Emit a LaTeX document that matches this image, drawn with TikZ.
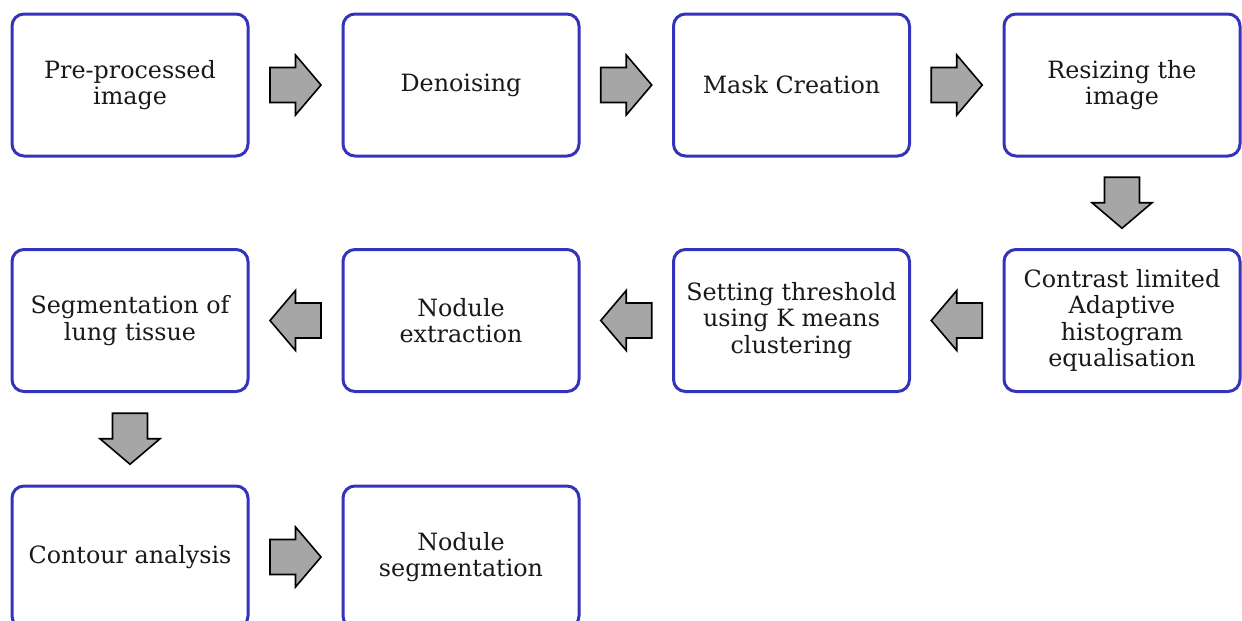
\documentclass[tikz,border=0pt]{standalone}
\usepackage{fontspec}
\setmainfont{DejaVu Serif}
\definecolor{boxblue}{RGB}{51,51,187}
\definecolor{arrgray}{RGB}{166,166,166}
\definecolor{txt}{RGB}{25,25,25}
\begin{document}
\begin{tikzpicture}[x=1pt,y=-1pt,
  stepbox/.style={draw=boxblue, line width=3pt, rounded corners=12pt, fill=white,
    minimum width=236pt, minimum height=142pt, align=center, text=txt,
    font=\fontsize{23.8}{26.5}\selectfont, inner sep=0pt},
  barrow/.pic={\draw[fill=arrgray, draw=black, line width=1.6pt, line join=miter]
     (-25.5,-17.5) -- (0,-17.5) -- (0,-30) -- (25.5,0) -- (0,30) -- (0,17.5) -- (-25.5,17.5) -- cycle;}
]
\useasboundingbox (0,0) rectangle (1242,621);
% row 1
\node[stepbox] (n1) at (130,85) {Pre-processed\\image};
\node[stepbox] (n2) at (461,85) {Denoising};
\node[stepbox] (n3) at (791.5,85) {Mask Creation};
\node[stepbox] (n4) at (1122,85) {Resizing the\\image};
% row 2
\node[stepbox] (n5) at (1122,320.5) {Contrast limited\\Adaptive\\histogram\\equalisation};
\node[stepbox] (n6) at (791.5,320.5) {Setting threshold\\using K means\\clustering};
\node[stepbox] (n7) at (461,320.5) {Nodule\\extraction};
\node[stepbox] (n8) at (130,320.5) {Segmentation of\\lung tissue};
% row 3
\node[stepbox] (n9) at (130,557) {Contour analysis};
\node[stepbox] (n10) at (461,557) {Nodule\\segmentation};
% block arrows
\path (n1.east) -- (n2.west) coordinate[midway] (a1);
\path (n2.east) -- (n3.west) coordinate[midway] (a2);
\path (n3.east) -- (n4.west) coordinate[midway] (a3);
\path (n4.south) -- (n5.north) coordinate[midway] (a4);
\path (n5.west) -- (n6.east) coordinate[midway] (a5);
\path (n6.west) -- (n7.east) coordinate[midway] (a6);
\path (n7.west) -- (n8.east) coordinate[midway] (a7);
\path (n8.south) -- (n9.north) coordinate[midway] (a8);
\path (n9.east) -- (n10.west) coordinate[midway] (a9);
\pic at (a1) {barrow};
\pic at (a2) {barrow};
\pic at (a3) {barrow};
\pic[rotate=-90] at (a4) {barrow};
\pic[rotate=180] at (a5) {barrow};
\pic[rotate=180] at (a6) {barrow};
\pic[rotate=180] at (a7) {barrow};
\pic[rotate=-90] at (a8) {barrow};
\pic at (a9) {barrow};
\end{tikzpicture}
\end{document}
